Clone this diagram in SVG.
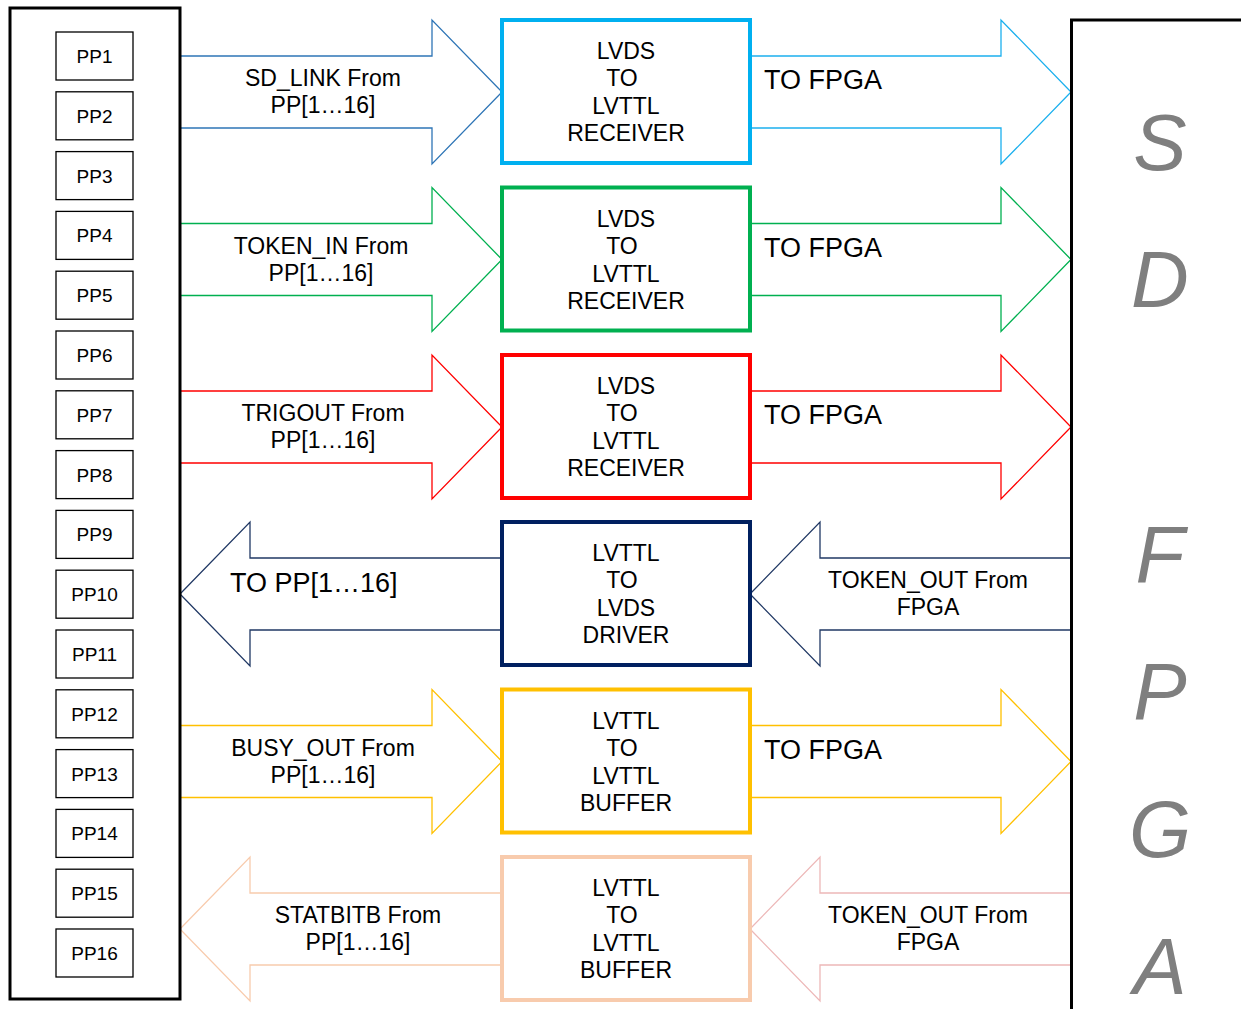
<svg xmlns="http://www.w3.org/2000/svg" width="1241" height="1009" viewBox="0 0 1241 1009">
<style>
text{font-family:"Liberation Sans",Arial,sans-serif;fill:#000}
.pp rect{fill:#fff;stroke:#000;stroke-width:1.3}
.pp text{font-size:19px;text-anchor:middle}
.blk rect{fill:#fff;stroke-width:4}
.blk text{font-size:23px;text-anchor:middle}
.arr polygon{fill:#fff;stroke-width:1.3}
.lbl{font-size:23px;text-anchor:middle}
.big{font-size:27px}
.fp{font-size:80px;font-style:italic;text-anchor:middle;fill:#7f7f7f}
</style>
<g id="connectors">
 <g class="arr">
  <polygon stroke="#2E75B6" points="180,56 432,56 432,20 502,92 432,164 432,128 180,128"/>
  <polygon stroke="#1CB0EE" points="750,56 1001,56 1001,20 1071,92 1001,164 1001,128 750,128"/>
  <polygon stroke="#00B050" points="180,223.5 432,223.5 432,187.5 502,259.5 432,331.5 432,295.5 180,295.5"/>
  <polygon stroke="#00B050" points="750,223.5 1001,223.5 1001,187.5 1071,259.5 1001,331.5 1001,295.5 750,295.5"/>
  <polygon stroke="#FF0000" points="180,391 432,391 432,355 502,427 432,499 432,463 180,463"/>
  <polygon stroke="#FF0000" points="750,391 1001,391 1001,355 1071,427 1001,499 1001,463 750,463"/>
  <polygon stroke="#203864" points="502,558 250,558 250,522 180,594 250,666 250,630 502,630"/>
  <polygon stroke="#203864" points="1071,558 820,558 820,522 750,594 820,666 820,630 1071,630"/>
  <polygon stroke="#FFC000" points="180,725.5 432,725.5 432,689.5 502,761.5 432,833.5 432,797.5 180,797.5"/>
  <polygon stroke="#FFC000" points="750,725.5 1001,725.5 1001,689.5 1071,761.5 1001,833.5 1001,797.5 750,797.5"/>
  <polygon stroke="#F8CBAD" points="502,893 250,893 250,857 180,929 250,1001 250,965 502,965"/>
  <polygon stroke="#EDB8B8" points="1071,893 820,893 820,857 750,929 820,1001 820,965 1071,965"/>
 </g>
 <text class="lbl" x="323" y="86">SD_LINK From</text>
 <text class="lbl" x="323" y="113">PP[1…16]</text>
 <text class="big" x="764" y="89">TO FPGA</text>
 <text class="lbl" x="321" y="253.5">TOKEN_IN From</text>
 <text class="lbl" x="321" y="280.5">PP[1…16]</text>
 <text class="big" x="764" y="256.5">TO FPGA</text>
 <text class="lbl" x="323" y="421">TRIGOUT From</text>
 <text class="lbl" x="323" y="448">PP[1…16]</text>
 <text class="big" x="764" y="424">TO FPGA</text>
 <text class="big" x="230" y="592">TO PP[1…16]</text>
 <text class="lbl" x="928" y="588">TOKEN_OUT From</text>
 <text class="lbl" x="928" y="615">FPGA</text>
 <text class="lbl" x="323" y="755.5">BUSY_OUT From</text>
 <text class="lbl" x="323" y="782.5">PP[1…16]</text>
 <text class="big" x="764" y="758.5">TO FPGA</text>
 <text class="lbl" x="358" y="923">STATBITB From</text>
 <text class="lbl" x="358" y="950">PP[1…16]</text>
 <text class="lbl" x="928" y="923">TOKEN_OUT From</text>
 <text class="lbl" x="928" y="950">FPGA</text>
</g>
<g id="pp-panel">
 <rect x="10" y="8" width="170" height="991" fill="none" stroke="#000" stroke-width="3"/>
</g>
<g id="pp1" class="pp"><rect x="56" y="32" width="77" height="48"/><text x="94.5" y="63">PP1</text></g>
<g id="pp2" class="pp"><rect x="56" y="91.8" width="77" height="48"/><text x="94.5" y="122.8">PP2</text></g>
<g id="pp3" class="pp"><rect x="56" y="151.6" width="77" height="48"/><text x="94.5" y="182.6">PP3</text></g>
<g id="pp4" class="pp"><rect x="56" y="211.4" width="77" height="48"/><text x="94.5" y="242.4">PP4</text></g>
<g id="pp5" class="pp"><rect x="56" y="271.2" width="77" height="48"/><text x="94.5" y="302.2">PP5</text></g>
<g id="pp6" class="pp"><rect x="56" y="331" width="77" height="48"/><text x="94.5" y="362">PP6</text></g>
<g id="pp7" class="pp"><rect x="56" y="390.8" width="77" height="48"/><text x="94.5" y="421.8">PP7</text></g>
<g id="pp8" class="pp"><rect x="56" y="450.6" width="77" height="48"/><text x="94.5" y="481.6">PP8</text></g>
<g id="pp9" class="pp"><rect x="56" y="510.4" width="77" height="48"/><text x="94.5" y="541.4">PP9</text></g>
<g id="pp10" class="pp"><rect x="56" y="570.2" width="77" height="48"/><text x="94.5" y="601.2">PP10</text></g>
<g id="pp11" class="pp"><rect x="56" y="630" width="77" height="48"/><text x="94.5" y="661">PP11</text></g>
<g id="pp12" class="pp"><rect x="56" y="689.8" width="77" height="48"/><text x="94.5" y="720.8">PP12</text></g>
<g id="pp13" class="pp"><rect x="56" y="749.6" width="77" height="48"/><text x="94.5" y="780.6">PP13</text></g>
<g id="pp14" class="pp"><rect x="56" y="809.4" width="77" height="48"/><text x="94.5" y="840.4">PP14</text></g>
<g id="pp15" class="pp"><rect x="56" y="869.2" width="77" height="48"/><text x="94.5" y="900.2">PP15</text></g>
<g id="pp16" class="pp"><rect x="56" y="929" width="77" height="48"/><text x="94.5" y="960">PP16</text></g>
<g id="rx1" class="blk"><rect x="502" y="20" width="248" height="143" stroke="#00B0F0"/><text x="626" y="59">LVDS</text><text x="622" y="86">TO</text><text x="626" y="114">LVTTL</text><text x="626" y="141">RECEIVER</text></g>
<g id="rx2" class="blk"><rect x="502" y="187.5" width="248" height="143" stroke="#00B050"/><text x="626" y="226.5">LVDS</text><text x="622" y="253.5">TO</text><text x="626" y="281.5">LVTTL</text><text x="626" y="308.5">RECEIVER</text></g>
<g id="rx3" class="blk"><rect x="502" y="355" width="248" height="143" stroke="#FF0000"/><text x="626" y="394">LVDS</text><text x="622" y="421">TO</text><text x="626" y="449">LVTTL</text><text x="626" y="476">RECEIVER</text></g>
<g id="drv" class="blk"><rect x="502" y="522" width="248" height="143" stroke="#002060"/><text x="626" y="561">LVTTL</text><text x="622" y="588">TO</text><text x="626" y="616">LVDS</text><text x="626" y="643">DRIVER</text></g>
<g id="buf1" class="blk"><rect x="502" y="689.5" width="248" height="143" stroke="#FFC000"/><text x="626" y="728.5">LVTTL</text><text x="622" y="755.5">TO</text><text x="626" y="783.5">LVTTL</text><text x="626" y="810.5">BUFFER</text></g>
<g id="buf2" class="blk"><rect x="502" y="857" width="248" height="143" stroke="#F8CBAD"/><text x="626" y="896">LVTTL</text><text x="622" y="923">TO</text><text x="626" y="951">LVTTL</text><text x="626" y="978">BUFFER</text></g>
<g id="fpga">
 <rect x="1071.5" y="20" width="200" height="1010" fill="none" stroke="#000" stroke-width="3"/>
 <text class="fp" x="1160" y="170">S</text>
 <text class="fp" x="1160" y="307">D</text>
 <text class="fp" x="1160" y="582">F</text>
 <text class="fp" x="1160" y="719">P</text>
 <text class="fp" x="1160" y="857">G</text>
 <text class="fp" x="1160" y="994">A</text>
</g>
</svg>
